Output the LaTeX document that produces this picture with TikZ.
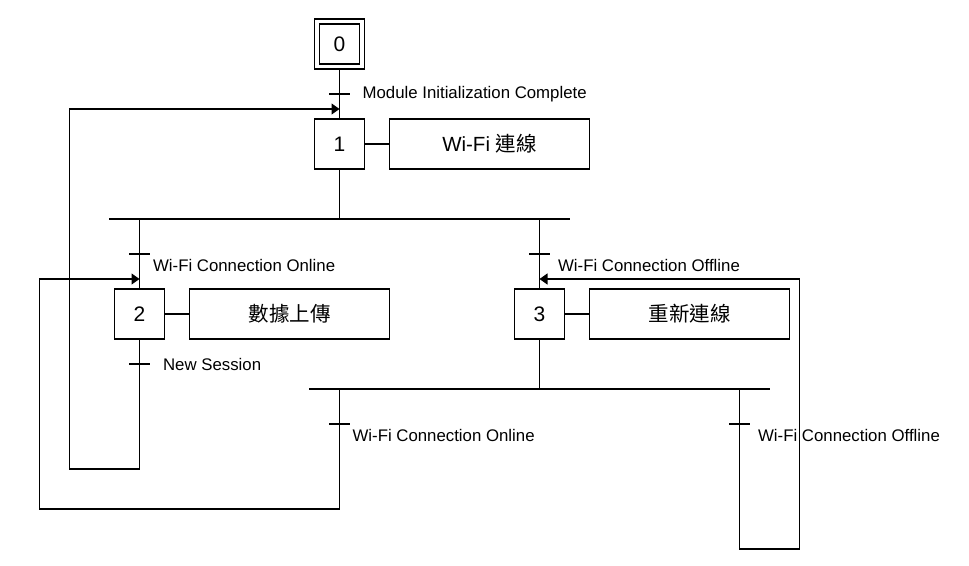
\documentclass[tikz,border=0pt]{standalone}
\usepackage{fontspec}
\setmainfont{Liberation Sans}
\newfontfamily\cjk{Noto Sans CJK TC}
\usetikzlibrary{arrows.meta}
\begin{document}
\begin{tikzpicture}[x=1pt,y=-1pt,line width=1.2pt,
  stepbox/.style={draw,minimum width=50pt,minimum height=50pt,inner sep=0pt,font=\fontsize{21}{25}\selectfont},
  actbox/.style={draw,minimum width=200pt,minimum height=50pt,inner sep=0pt,font=\fontsize{20.5}{25}\selectfont},
  lbl/.style={anchor=west,inner sep=0pt,font=\fontsize{16.8}{20}\selectfont},
  arr/.style={-{Triangle[length=8pt,width=11pt]}},
  tick/.style={line width=1.2pt}]
\useasboundingbox (0,0) rectangle (969,565);
% steps
\node[stepbox] (s0) at (339.5,44) {};
\node[draw,minimum width=40pt,minimum height=40pt,inner sep=0pt,font=\fontsize{21}{25}\selectfont] (s0i) at (339.5,44) {0};
\node[stepbox] (s1) at (339.5,144) {1};
\node[actbox] (a1) at (489.5,144) {Wi-Fi {\cjk 連線}};
\node[stepbox] (s2) at (139.5,314) {2};
\node[actbox] (a2) at (289.5,314) {\cjk 數據上傳};
\node[stepbox] (s3) at (539.5,314) {3};
\node[actbox] (a3) at (689.5,314) {\cjk 重新連線};
% action links
\draw (s1.east) -- (a1.west);
\draw (s2.east) -- (a2.west);
\draw (s3.east) -- (a3.west);
% junction coordinates
\coordinate (j1) at (339.5,109);
\coordinate (j2) at (139.5,279);
\coordinate (j3) at (539.5,279);
\coordinate (b1l) at (109,219);
\coordinate (b1r) at (570,219);
\coordinate (b1a) at (139.5,219);
\coordinate (b1b) at (539.5,219);
\coordinate (b1c) at (339.5,219);
\coordinate (b2l) at (309,389);
\coordinate (b2r) at (770,389);
\coordinate (b2a) at (339.5,389);
\coordinate (b2b) at (739.5,389);
\coordinate (b2c) at (539.5,389);
% main flow
\draw (s0.south) -- (s1.north);
\draw (s1.south) -- (b1c);
\draw (b1l) -- (b1r);
\draw (b1a) -- (s2.north);
\draw (b1b) -- (s3.north);
\draw (s3.south) -- (b2c);
\draw (b2l) -- (b2r);
% loops
\draw[arr] (s2.south) |- (69.5,469) |- (j1);
\draw[arr] (b2a) |- (39.5,509) |- (j2);
\draw[arr] (b2b) |- (799.5,549) |- (j3);
% transitions
\draw[tick] (329,94) -- (350,94);
\node[lbl] (t0) at (362,94) {Module Initialization Complete};
\draw[tick] (129,254) -- (150,254);
\node[lbl] (t1) at (152.5,265) {Wi-Fi Connection Online};
\draw[tick] (529,254) -- (550,254);
\node[lbl] (t2) at (557.5,265) {Wi-Fi Connection Offline};
\draw[tick] (129,364) -- (150,364);
\node[lbl] (t3) at (162.5,364) {New Session};
\draw[tick] (329,424) -- (350,424);
\node[lbl] (t4) at (352,435) {Wi-Fi Connection Online};
\draw[tick] (729,424) -- (750,424);
\node[lbl] (t5) at (757.5,435) {Wi-Fi Connection Offline};
\end{tikzpicture}
\end{document}
